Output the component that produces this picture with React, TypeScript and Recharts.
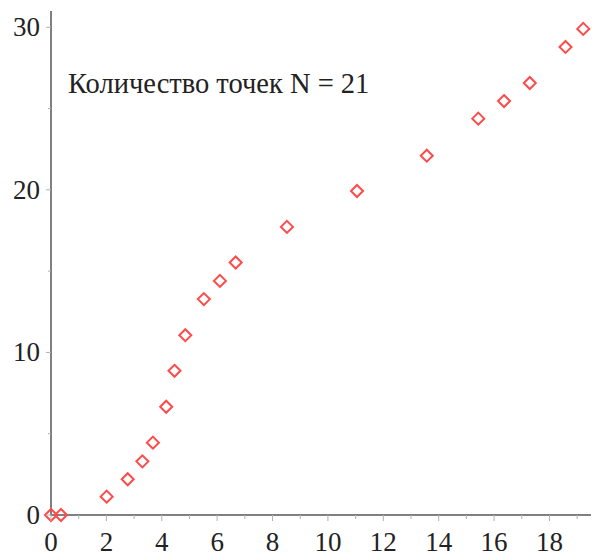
import { ScatterChart, Scatter, XAxis, YAxis } from 'recharts';

// measured points (21 requested, 20 visible in the source picture)
const xValues = [0, 0.36, 2.01, 2.77, 3.3, 3.68, 4.16, 4.46, 4.85, 5.52, 6.1, 6.67, 8.52, 11.05, 13.57, 15.43, 16.36, 17.29, 18.58, 19.22];
const yValues = [0, 0, 1.13, 2.2, 3.3, 4.45, 6.66, 8.87, 11.06, 13.28, 14.4, 15.53, 17.72, 19.93, 22.1, 24.38, 25.46, 26.57, 28.79, 29.9];

const xTicks = [0, 1, 2, 3, 4, 5, 6, 7, 8, 9, 10, 11, 12, 13, 14, 15, 16, 17, 18, 19];
const yTicks = [0, 5, 10, 15, 20, 25, 30];
const labelText = 'Количество точек N = 21';

const points = xValues.map((x, i) => ({ x, y: yValues[i] }));

const FONT = '"Liberation Serif", "Times New Roman", serif';
const AXIS = '#808080';
const RED = '#ff4a4a';

function XTick(props: any) {
  const { x, y, payload } = props;
  const v = payload.value as number;
  const major = v % 2 === 0;
  return (
    <g>
      <line x1={x} x2={x} y1={y} y2={y + (major ? 6 : 4)} stroke="#b0b0b0" strokeWidth={1} />
      {major && (
        <text x={x} y={y + 36} textAnchor="middle" fontFamily={FONT} fontSize={27} fill="#222">
          {v}
        </text>
      )}
    </g>
  );
}

function YTick(props: any) {
  const { x, y, payload } = props;
  const v = payload.value as number;
  const major = v % 10 === 0;
  return (
    <g>
      <line x1={x} x2={x - (major ? 5 : 3)} y1={y} y2={y} stroke="#b0b0b0" strokeWidth={1} />
      {major && (
        <text x={x - 11} y={y + 9} textAnchor="end" fontFamily={FONT} fontSize={27} fill="#222">
          {v}
        </text>
      )}
    </g>
  );
}

function Diamond(props: any) {
  const { cx, cy } = props;
  const r = 6;
  return (
    <path
      d={`M${cx},${cy - r} L${cx + r},${cy} L${cx},${cy + r} L${cx - r},${cy} Z`}
      fill="none"
      stroke={RED}
      strokeWidth={2}
    />
  );
}

export default function App() {
  return (
    <div style={{ position: 'absolute', top: 0, left: 0, width: 592, height: 555, background: '#fff', overflow: 'hidden' }}>
      <ScatterChart width={592} height={555} margin={{ top: 11, right: 1, bottom: 0, left: 0 }}>
        <XAxis
          type="number"
          dataKey="x"
          domain={[0, 19.5]}
          ticks={xTicks}
          interval={0}
          height={40}
          stroke={AXIS}
          strokeWidth={2}
          tickLine={false}
          tickSize={0}
          tickMargin={0}
          tick={<XTick />}
        />
        <YAxis
          type="number"
          dataKey="y"
          domain={[0, 31]}
          ticks={yTicks}
          interval={0}
          width={51}
          stroke={AXIS}
          strokeWidth={2}
          tickLine={false}
          tickSize={0}
          tickMargin={0}
          tick={<YTick />}
        />
        <Scatter data={points} shape={<Diamond />} isAnimationActive={false} />
      </ScatterChart>
      <div
        style={{
          position: 'absolute',
          left: 68,
          top: 70,
          fontFamily: FONT,
          fontSize: 28.5,
          color: '#222',
          whiteSpace: 'nowrap',
          lineHeight: '28px',
        }}
      >
        {labelText}
      </div>
    </div>
  );
}
